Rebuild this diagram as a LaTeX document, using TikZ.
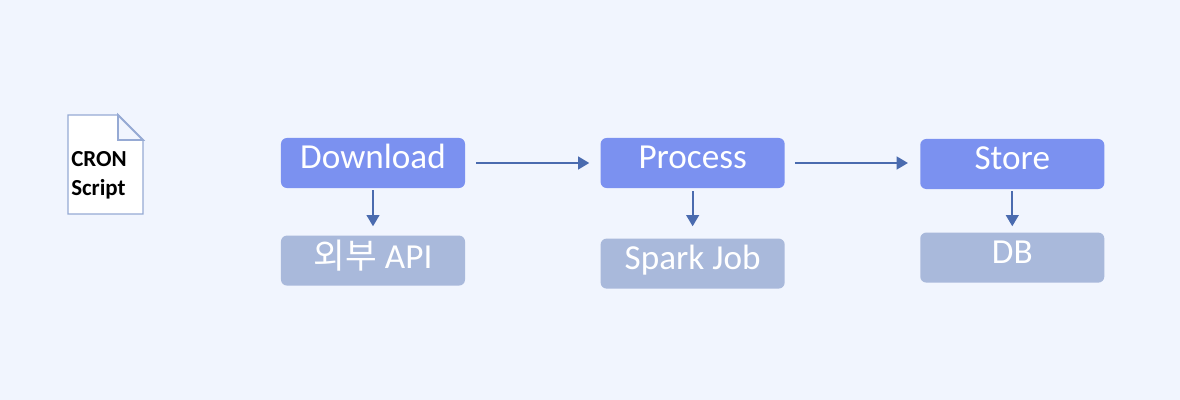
\documentclass[tikz,border=0pt]{standalone}
\usepackage{fontspec}
\setmainfont{Carlito}
\newfontfamily\krfont{Noto Sans CJK KR}
\usetikzlibrary{positioning,arrows.meta,calc}
\definecolor{pagebg}{RGB}{241,245,254}
\definecolor{stepblue}{RGB}{123,145,240}
\definecolor{toolblue}{RGB}{169,185,219}
\definecolor{arrowblue}{RGB}{74,107,175}
\definecolor{docline}{RGB}{150,170,212}

\begin{document}
\begin{tikzpicture}[
    x=0.025cm, y=-0.025cm,
    stepbox/.style={fill=stepblue, text=white, rounded corners=0.15cm, minimum width=4.6cm,
      minimum height=1.25cm, inner sep=0pt, font=\fontsize{25}{28}\selectfont,
      text height=21.5pt, text depth=13.5pt},
    toolbox/.style={stepbox, fill=toolblue},
    flow/.style={draw=arrowblue, line width=1.6pt, -{Stealth[length=8pt,width=9pt,inset=0pt]}},
    doctext/.style={font=\fontsize{16.3}{20.5}\selectfont\bfseries, align=left, inner sep=0pt, text=black}
  ]
  \fill[pagebg] (0,0) rectangle (1180,400);
  \useasboundingbox (0,0) rectangle (1180,400);

  % cron page
  \coordinate (pagenw) at (68,115);
  \coordinate (foldtop) at (118,115);
  \coordinate (foldin) at (118,140);
  \coordinate (foldright) at (143,140);
  \coordinate (pagese) at (143,214);
  \draw[docline, line width=1pt, fill=white] (pagenw) -- (foldtop) -- (foldright) -- (pagese) -- (pagenw |- pagese) -- cycle;
  \draw[docline, line width=1.3pt, fill=pagebg] (foldtop) -- (foldin) -- (foldright) -- cycle;
  \node[doctext, anchor=west] (cron) at (71,175) {CRON\\Script};

  % steps
  \node[stepbox] (download) at (373,163) {Download};
  \node[stepbox, right=3.375cm of download] (process) {Process};
  \node[stepbox, right=3.375cm of process, yshift=-0.025cm] (store) {Store};

  \node[toolbox, below=1.175cm of download, text height=23pt, text depth=12pt] (api) {{\krfont\fontsize{24.5}{28}\selectfont 외부} API};
  \node[toolbox, below=1.25cm of process] (spark) {Spark Job};
  \node[toolbox, below=1.075cm of store] (db) {DB};

  \draw[flow, shorten <=0.275cm, shorten >=0.275cm] (download) -- (process);
  \draw[flow, shorten <=0.25cm, shorten >=0.3cm] (process.east) -- (process.east -| store.west);
  \draw[flow, shorten <=0.05cm, shorten >=0.225cm] (download) -- (api);
  \draw[flow, shorten <=0.075cm, shorten >=0.3cm] (process) -- (spark);
  \draw[flow, shorten <=0.05cm, shorten >=0.15cm] (store) -- (db);
\end{tikzpicture}
\end{document}
